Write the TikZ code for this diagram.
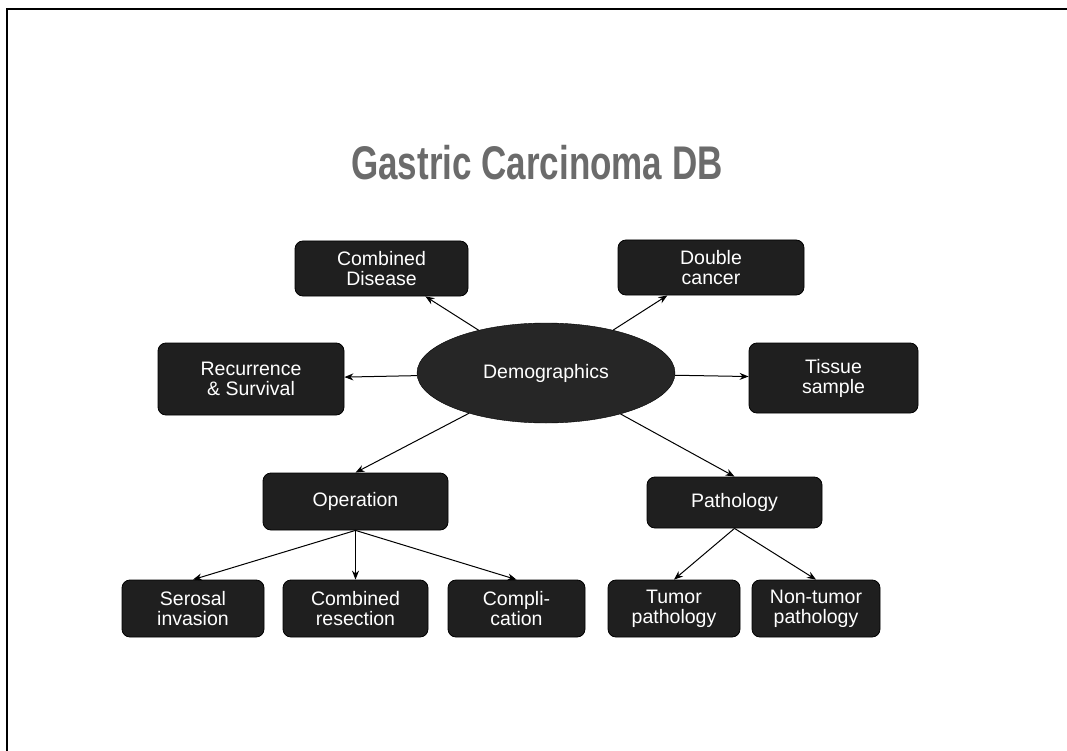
\documentclass[tikz,border=0pt]{standalone}
\usepackage{fontspec}
\setmainfont{Liberation Sans}
\usetikzlibrary{shapes.geometric,arrows.meta}
\tikzset{
  darkbox/.style={draw=black, fill=black!88, rounded corners=8pt, text=white,
    font=\fontsize{19.5}{20}\selectfont, align=center, inner sep=0pt, line width=0.8pt},
  conn/.style={-{Stealth[length=9pt,width=7pt]}, line width=1pt},
}
\begin{document}
\begin{tikzpicture}[x=1pt,y=-1pt]
\useasboundingbox (0,0) rectangle (1067,751);
\draw[line width=2.5pt] (7,751) -- (7,9) -- (1067,9);
\node[text=black!58, font=\fontsize{35}{35}\bfseries\selectfont] (title) at (537,163) {\scalebox{1}[1.35]{Gastric Carcinoma DB}};
\node[ellipse, fill=black!85, draw=black, minimum width=258pt, minimum height=100pt, inner sep=0pt,
  text=white, font=\fontsize{19.5}{20}\selectfont] (demo) at (546,373) {Demographics};
\node[darkbox, minimum width=173pt, minimum height=55pt] (cd) at (381.5,268.5) {Combined\\Disease};
\node[darkbox, minimum width=186pt, minimum height=55pt] (dc) at (711,267.5) {Double\\cancer};
\node[darkbox, minimum width=186pt, minimum height=72pt] (rec) at (251,379) {Recurrence\\\& Survival};
\node[darkbox, minimum width=169pt, minimum height=70pt] (tis) at (833.5,378) {Tissue\\sample};
\node[darkbox, minimum width=185pt, minimum height=57pt] (op) at (355.5,501.5) {Operation};
\node[darkbox, minimum width=175pt, minimum height=51pt] (path) at (734.5,502.5) {Pathology};
\node[darkbox, minimum width=142pt, minimum height=57pt] (ser) at (193,608.5) {Serosal\\invasion};
\node[darkbox, minimum width=145pt, minimum height=57pt] (cr) at (355.5,608.5) {Combined\\resection};
\node[darkbox, minimum width=137pt, minimum height=57pt] (comp) at (516.5,608.5) {Compli-\\cation};
\node[darkbox, minimum width=132pt, minimum height=57pt] (tum) at (674,608.5) {Tumor\\pathology};
\node[darkbox, minimum width=128pt, minimum height=57pt] (ntum) at (816,608.5) {Non-tumor\\pathology};
\draw[conn] (demo) -- (cd);
\draw[conn] (demo) -- (dc);
\draw[conn] (demo) -- (rec);
\draw[conn] (demo) -- (tis);
\draw[conn] (demo) -- (op.north);
\draw[conn] (demo) -- (path.north);
\draw[conn] (op.south) -- (ser.north);
\draw[conn] (op.south) -- (cr.north);
\draw[conn] (op.south) -- (comp.north);
\draw[conn] (path.south) -- (tum.north);
\draw[conn] (path.south) -- (ntum.north);
\end{tikzpicture}
\end{document}
